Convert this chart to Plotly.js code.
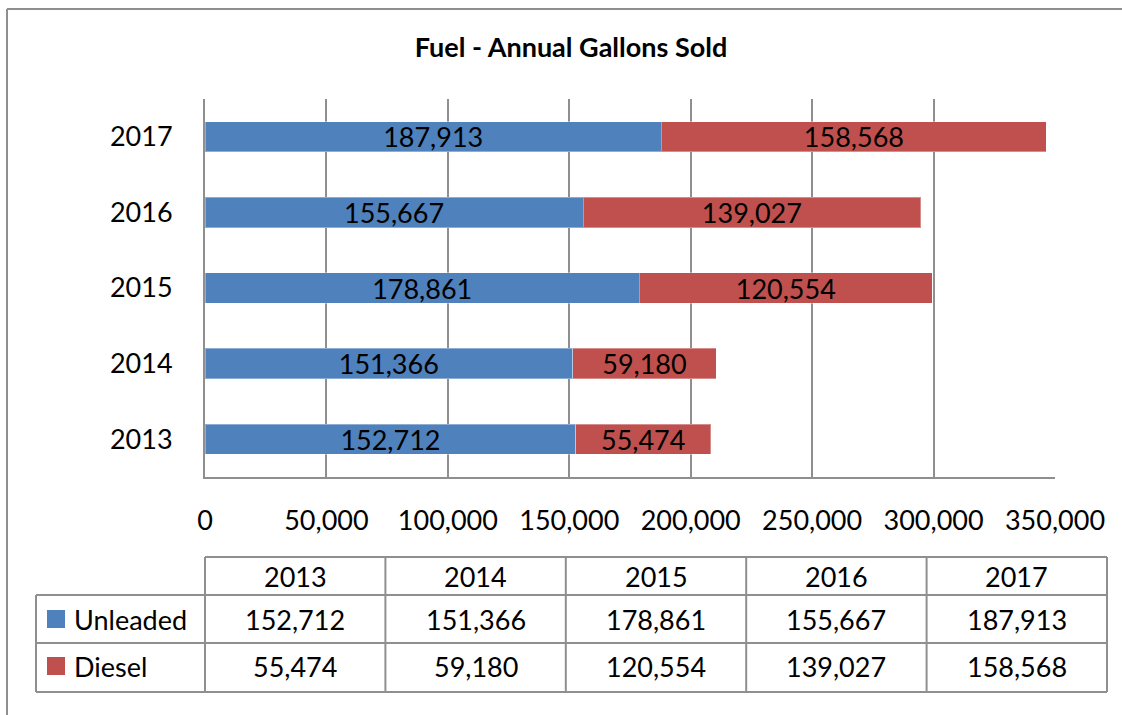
<!DOCTYPE html>
<html><head><meta charset="utf-8">
<script src="https://cdn.plot.ly/plotly-3.0.1.min.js"></script>
<style>html,body{margin:0;padding:0;background:#fff}</style>
</head><body><div id="chart" style="width:1122px;height:715px"></div>
<script>
// ---- data ----
const years = ['2013', '2014', '2015', '2016', '2017'];
const unleaded = [152712, 151366, 178861, 155667, 187913];
const diesel = [55474, 59180, 120554, 139027, 158568];
const seriesNames = ['Unleaded', 'Diesel'];
const xTickVals = [0, 50000, 100000, 150000, 200000, 250000, 300000, 350000];
const chartTitle = 'Fuel - Annual Gallons Sold';

// ---- styling / layout helpers ----
const seriesColors = ['#4F81BD', '#C0504D'];
const FONT = 'Lato, Carlito, Calibri, sans-serif';
const GRID = '#8f8f8f';
const W = 1122, H = 715, L = 205, R = 1055, T = 99, B = 477;
const px = p => (p - L) / (R - L);
const py = p => (B - p) / (B - T);
const fmt = v => v.toLocaleString('en-US');

const traces = [unleaded, diesel].map((vals, i) => ({
  type: 'bar', orientation: 'h', name: seriesNames[i],
  y: years, x: vals,
  marker: {color: seriesColors[i], line: {color: 'rgba(255,255,255,0.35)', width: 1}},
  texttemplate: '%{x:,}', textposition: 'inside', insidetextanchor: 'middle',
  textfont: {family: FONT, size: 27, color: '#000'},
  constraintext: 'none', hoverinfo: 'skip'
}));

const shapes = [];
const annotations = [];
const line = (x0, y0, x1, y1) => shapes.push({type: 'line', xref: 'paper', yref: 'paper',
  x0: px(x0), y0: py(y0), x1: px(x1), y1: py(y1), line: {color: GRID, width: 2}});

// outer border (top and left)
line(7, 9, 1122, 9);
line(7, 9, 7, 715);

// data table
const colEdges = [205, 385.4, 565.8, 746.2, 926.6, 1107];
const legendLeft = 36;
const rowY = [557, 595, 643, 692];
line(colEdges[0], rowY[0], colEdges[5], rowY[0]);
for (let r = 1; r < 4; r++) line(legendLeft, rowY[r], colEdges[5], rowY[r]);
colEdges.forEach(x => line(x, rowY[0], x, rowY[3]));
line(legendLeft, rowY[1], legendLeft, rowY[3]);

const txt = (text, x, y, anchor) => annotations.push({xref: 'paper', yref: 'paper',
  x: px(x), y: py(y), text: text, showarrow: false, xanchor: anchor || 'center', yanchor: 'middle',
  font: {family: FONT, size: 27, color: '#000'}});

const rowCenters = [576, 619, 666];
years.forEach((yr, i) => {
  const cx = (colEdges[i] + colEdges[i + 1]) / 2;
  txt(yr, cx, rowCenters[0]);
  txt(fmt(unleaded[i]), cx, rowCenters[1]);
  txt(fmt(diesel[i]), cx, rowCenters[2]);
});
seriesNames.forEach((nm, i) => {
  const cy = rowCenters[i + 1];
  shapes.push({type: 'rect', xref: 'paper', yref: 'paper',
    x0: px(47), x1: px(65), y0: py(cy - 9), y1: py(cy + 9),
    fillcolor: seriesColors[i], line: {width: 0}});
  txt(nm, 72, cy, 'left');
});

const layout = {
  width: W, height: H,
  margin: {l: L, r: W - R, t: T, b: H - B, pad: 0},
  paper_bgcolor: '#fff', plot_bgcolor: '#fff',
  barmode: 'stack', bargap: 0.6, showlegend: false, hovermode: false,
  font: {family: FONT, size: 27, color: '#000'},
  title: {text: '<b>' + chartTitle + '</b>', x: 571 / W, xanchor: 'center', xref: 'container',
    y: 1 - 48 / H, yanchor: 'middle', yref: 'container',
    font: {family: FONT, size: 27, color: '#000'}},
  xaxis: {range: [0, 350000], tickvals: xTickVals, tickformat: ',', showgrid: true,
    gridcolor: GRID, gridwidth: 2, zeroline: false, showline: true, linecolor: GRID, linewidth: 2,
    ticks: '', ticklabelstandoff: 19, tickfont: {family: FONT, size: 27, color: '#000'}, fixedrange: true},
  yaxis: {type: 'category', categoryorder: 'array', categoryarray: years, showgrid: false,
    zeroline: false, showline: true, linecolor: GRID, linewidth: 2, ticks: '',
    ticklabelstandoff: 25, tickfont: {family: FONT, size: 27, color: '#000'}, fixedrange: true},
  shapes: shapes, annotations: annotations
};

Plotly.newPlot('chart', traces, layout, {displayModeBar: false, staticPlot: true});
</script></body></html>
